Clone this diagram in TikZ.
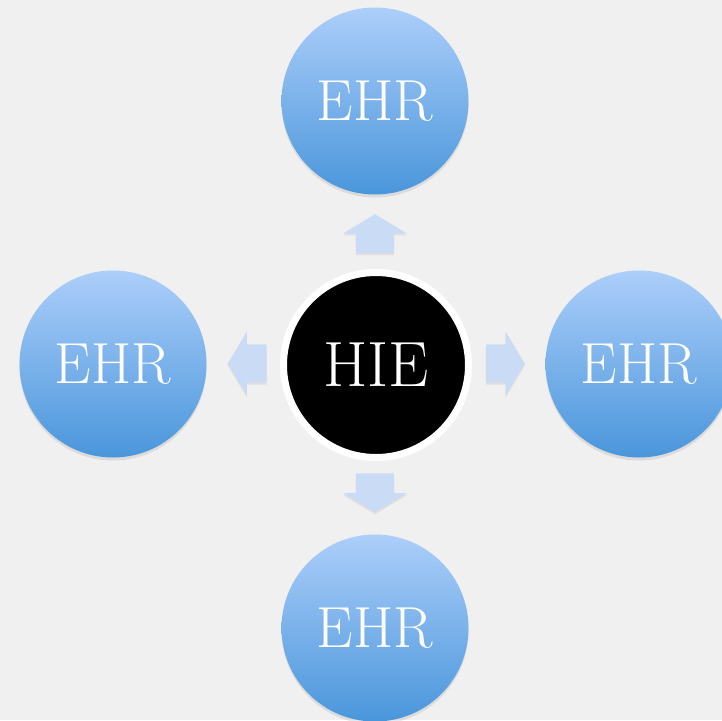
\documentclass[tikz,border=0pt]{standalone}
\usepackage{tikz}
\usetikzlibrary{shapes.arrows,shadows}

\definecolor{paper}{RGB}{240,240,240}
\definecolor{ehrtop}{RGB}{172,206,250}
\definecolor{ehrbottom}{RGB}{74,150,219}
\definecolor{arrfill}{RGB}{202,219,246}

\tikzset{
  ehr/.style={circle, minimum size=187pt, inner sep=0pt, shading=axis,
    top color=ehrtop, bottom color=ehrbottom, text=white,
    font=\fontsize{58}{62}\selectfont,
    drop shadow={opacity=0.18, shadow xshift=0pt, shadow yshift=-3pt}},
  hie/.style={circle, minimum size=185pt, inner sep=0pt, fill=black,
    draw=white, line width=7pt, text=white,
    font=\fontsize{64}{68}\selectfont,
    drop shadow={opacity=0.2, shadow xshift=0pt, shadow yshift=-3pt}},
  blockarrow/.style={single arrow, minimum height=39pt, inner sep=0pt,
    inner ysep=19pt, single arrow head extend=12.5pt,
    single arrow tip angle=118, fill=arrfill,
    drop shadow={opacity=0.15, shadow xshift=0pt, shadow yshift=-2pt}}
}

\begin{document}
\begin{tikzpicture}[x=1pt,y=-1pt]
    \fill [paper] (0,0) rectangle (722,720);
    \useasboundingbox (0,0) rectangle (722,720);

    \node [hie] (hie) at (376,365) {HIE};

    \node [ehr] (top) at (375,101) {EHR};
    \node [ehr] (left) at (113,364) {EHR};
    \node [ehr] (right) at (639,364) {EHR};
    \node [ehr] (bottom) at (375,628) {EHR};

    \node [blockarrow, rotate=90] (totop) at (375,239.5) {};
    \node [blockarrow, rotate=180] (toleft) at (253,363.5) {};
    \node [blockarrow] (toright) at (499.5,363.5) {};
    \node [blockarrow, rotate=270] (tobottom) at (375,487) {};
  \end{tikzpicture}
\end{document}
